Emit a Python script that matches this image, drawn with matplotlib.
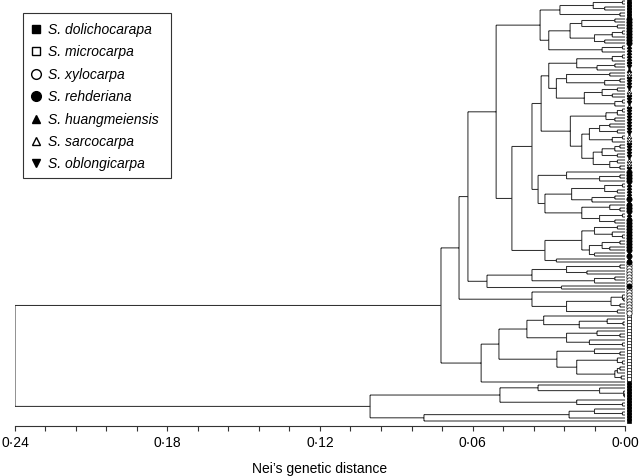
import matplotlib
matplotlib.use('Agg')
import matplotlib.pyplot as plt
from matplotlib.patches import Rectangle
import numpy as np

plt.rcParams['font.family'] = ['Liberation Sans', 'DejaVu Sans']

# tree data: "(child,child)height", leaves are species codes
# D dolichocarapa, M microcarpa, X xylocarpa, R rehderiana,
# H huangmeiensis, S sarcocarpa, O oblongicarpa
E_up = "(((D,D)0.001,(D,D)0.008)0.0125,(D,D)0.002)0.0256"
F_up = "(((R,R)0.004,(R,R)0.003)0.017,(((R,R)0.001,R)0.005,(R,R)0.008)0.012)0.0216"
clade_E = f"({E_up},({F_up},((H,H)0.001,H)0.009)0.030)0.0334"

J_up = "(((H,H)0.001,H)0.005,((O,O)0.004,H)0.011)0.019"
J_low_a = "((S,S)0.006,((O,O)0.002,O)0.008)0.023"
J_low_b = "(((O,S)0.003,(S,O)0.005)0.009,((O,O)0.001,S)0.004)0.016"
I_a = "(((O,O)0.001,O)0.003,(O,O)0.004)0.0075"
I_b = "(((O,O)0.006,(O,O)0.003)0.010,((S,S)0.001,S)0.005)0.014"
I_c = "((((O,O)0.002,O)0.004,(O,O)0.003)0.009,((S,S)0.003,(S,O)0.002)0.006)0.0125"
clade_I = f"(({J_up},({J_low_a},{J_low_b})0.027)0.030,({I_a},({I_b},{I_c})0.017)0.0215)0.033"

K_up = "(R,((R,R)0.002,R)0.010)0.023"
K_a = "(((H,H)0.001,(H,H)0.003)0.008,((H,R)0.004,H)0.013)0.021"
K_b = "((R,(R,R)0.002)0.006,((H,H)0.001,(R,R)0.004)0.010)0.017"
clade_K = f"({K_up},({K_a},{K_b})0.0315)0.0342"

L_up = "(((R,R)0.003,(R,(R,R)0.001)0.005)0.012,(((R,R)0.002,(R,R)0.006)0.009,(H,R)0.012)0.014)0.017"
clade_L = f"({L_up},(H,R)0.027)0.0315"

clade_G = f"(({clade_I},{clade_K})0.0366,{clade_L})0.0445"
clade_M = "((((X,X)0.002,(X,X)0.015)0.023,((X,X)0.004,X)0.012)0.0366,(R,X)0.025)0.0543"
clade_N = "(X,(((X,(X,X)0.0005)0.001,(X,X)0.002)0.0055,(X,X)0.003)0.023)0.0366"

Q = "((M,((M,(M,M)0.0008)0.007,M)0.018)0.032,((M,(M,M)0.002)0.011,(M,(M,M)0.001)0.014)0.023)0.0386"
R = "((M,(M,M)0.002)0.012,((M,(M,M)0.001)0.003,(((M,M)0.002,M)0.003,(M,M)0.0015)0.004)0.019)0.0268"
clade_O = f"(({Q},{R})0.0496,D)0.0566"

T = "(D,(D,(D,(D,D)0.0003)0.0005)0.010)0.0342"
V = "(D,(D,D)0.001)0.019"
W = "(((D,(D,D)0.001)0.012,D)0.022,D)0.0791"

top = f"(((({clade_E},{clade_G})0.0507,{clade_M})0.0618,{clade_N})0.0653,{clade_O})0.0724"
bottom = f"(({T},{V})0.0492,{W})0.1003"
tree = f"({top},{bottom})0.24"

species = ['D', 'M', 'X', 'R', 'H', 'S', 'O']
names = ['S. dolichocarapa', 'S. microcarpa', 'S. xylocarpa', 'S. rehderiana',
         'S. huangmeiensis', 'S. sarcocarpa', 'S. oblongicarpa']
markers = ['s', 's', 'o', 'o', '^', '^', 'v']
filled = [True, False, False, True, True, False, True]

major = [0.24, 0.18, 0.12, 0.06, 0.0]


def parse(s):
    pos = 0

    def node():
        nonlocal pos
        if s[pos] == '(':
            pos += 1
            kids = []
            while True:
                kids.append(node())
                c = s[pos]
                pos += 1
                if c == ')':
                    break
            start = pos
            while pos < len(s) and (s[pos].isdigit() or s[pos] == '.'):
                pos += 1
            return {'h': float(s[start:pos]), 'kids': kids}
        code = s[pos]
        pos += 1
        return {'h': 0.0, 'sp': code}
    return node()


root = parse(tree)
leaves = []


def place(n):
    if 'sp' in n:
        n['y'] = len(leaves)
        leaves.append(n['sp'])
        return n['y']
    ys = [place(k) for k in n['kids']]
    n['y'] = (ys[0] + ys[-1]) / 2
    return n['y']


place(root)
N = len(leaves)

xs, ys = [], []


def draw(n):
    if 'kids' not in n:
        return
    ky = [k['y'] for k in n['kids']]
    xs.extend([n['h'], n['h'], None])
    ys.extend([min(ky), max(ky), None])
    for k in n['kids']:
        xs.extend([n['h'], k['h'], None])
        ys.extend([k['y'], k['y'], None])
        draw(k)


draw(root)

fig = plt.figure(figsize=(6.4, 4.77), dpi=100)
ax = fig.add_axes([15 / 640, 50 / 477, 610 / 640, 427 / 477])
lc = '#333333'
ax.plot(xs, ys, color=lc, lw=0.75, solid_capstyle='butt')

for code, m, f in zip(species, markers, filled):
    idx = [i for i, s in enumerate(leaves) if s == code]
    ax.plot([-0.0016] * len(idx), idx, ls='none', marker=m, ms=3.4 if m != 'o' else 3.8,
            mfc='black' if f else 'white', mec='black', mew=0.5, clip_on=False)

sp = 420 / (N - 1)
ax.set_ylim(425 / sp, -2 / sp)
ax.set_xlim(0.24, 0.0)

for s in ['left', 'right', 'top']:
    ax.spines[s].set_visible(False)
ax.spines['bottom'].set_color(lc)
ax.spines['bottom'].set_linewidth(0.8)
ax.set_yticks([])
ax.set_xticks(major)
ax.set_xticklabels([f'{v:.2f}'.replace('.', '\u00b7') for v in major])
ax.set_xticks(np.arange(0, 0.2401, 0.012), minor=True)
ax.tick_params(axis='x', which='both', direction='out', length=3.8, width=0.8,
               color=lc, labelsize=10, pad=3)
ax.set_xlabel('Nei\u2019s genetic distance', fontsize=10, labelpad=8)

# legend drawn in pixel space
lg = fig.add_axes([0, 0, 1, 1])
lg.set_xlim(0, 640)
lg.set_ylim(477, 0)
lg.axis('off')
lg.add_patch(Rectangle((23, 14), 148, 165, fill=False, ec=lc, lw=0.8))
for k, (nm, m, f) in enumerate(zip(names, markers, filled)):
    yy = 30 + 22.4 * k
    lg.plot([36], [yy], marker=m, ms=7 if m == 'o' else 6,
            mfc='black' if f else 'white', mec='black', mew=1.0, ls='none')
    lg.text(48, yy, nm, style='italic', fontsize=10, va='center', ha='left')

fig.savefig('out.png', dpi=100)
